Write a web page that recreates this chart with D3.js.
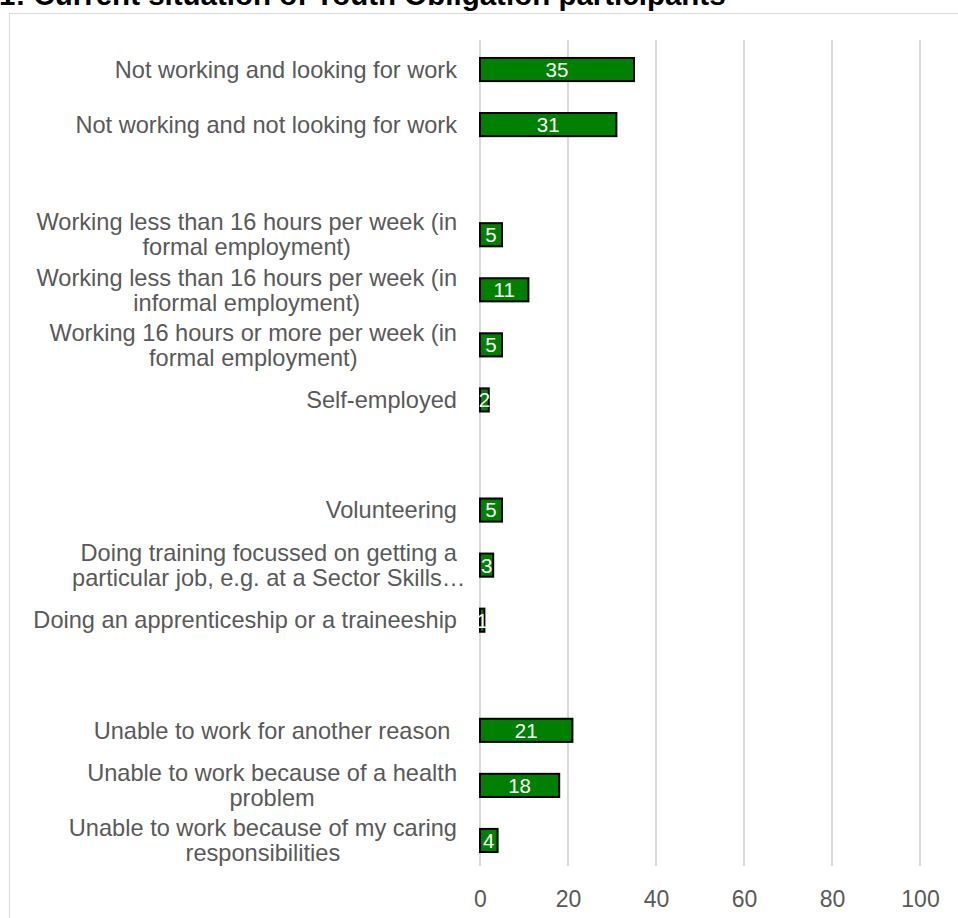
<!DOCTYPE html>
<html>
<head>
<meta charset="utf-8">
<script src="https://cdn.jsdelivr.net/npm/d3@7"></script>
<style>
  body { margin: 0; background: #fff; }
  svg { display: block; font-family: Arial, "Liberation Sans", sans-serif; }
</style>
</head>
<body>
<div id="chart"></div>
<script>
// Category labels (split into lines as in the original), blanks are spacer rows
const categories = [
  ['Not working and looking for work'],
  ['Not working and not looking for work'],
  [],
  ['Working less than 16 hours per week (in', 'formal employment)'],
  ['Working less than 16 hours per week (in', 'informal employment)'],
  ['Working 16 hours or more per week (in', 'formal employment)'],
  ['Self-employed'],
  [],
  ['Volunteering'],
  ['Doing training focussed on getting a', 'particular job, e.g. at a Sector Skills\u2026'],
  ['Doing an apprenticeship or a traineeship'],
  [],
  ['Unable to work for another reason\u00a0'],
  ['Unable to work because of a health', 'problem'],
  ['Unable to work because of my caring', 'responsibilities']
];
const values = [35, 31, null, 5, 11, 5, 2, null, 5, 3, 1, null, 21, 18, 4];
const xTicks = [0, 20, 40, 60, 80, 100];
const title = '1: Current situation of Youth Obligation participants';

const width = 958, height = 918;
const margin = { top: 42, right: 38, bottom: 50, left: 480 };

const svg = d3.select('#chart')
  .append('svg')
  .attr('width', width)
  .attr('height', height);

// Title (cut off at the top of the picture)
svg.append('text')
  .attr('x', -1)
  .attr('y', 5)
  .style('font-size', '29.5px')
  .style('font-weight', 'bold')
  .style('fill', '#000')
  .text(title);

// Chart frame
svg.append('rect')
  .attr('x', 9.5)
  .attr('y', 13.5)
  .attr('width', 1000)
  .attr('height', 1000)
  .attr('fill', 'none')
  .attr('stroke', '#d9d9d9')
  .attr('stroke-width', 1);

const keys = categories.map((d, i) => 'c' + i);

const x = d3.scaleLinear()
  .domain([0, 100])
  .range([margin.left, width - margin.right]);

const y = d3.scaleBand()
  .domain(keys)
  .range([margin.top, height - margin.bottom])
  .paddingInner(0.58)
  .paddingOuter(0.29);

// Gridlines
svg.append('g')
  .selectAll('line')
  .data(xTicks)
  .enter()
  .append('line')
  .attr('x1', d => x(d))
  .attr('x2', d => x(d))
  .attr('y1', 40)
  .attr('y2', 866)
  .attr('stroke', '#d9d9d9')
  .attr('stroke-width', 2);

// X axis labels
const xAxis = svg.append('g')
  .attr('transform', `translate(0, ${height - margin.bottom})`)
  .call(d3.axisBottom(x).tickValues(xTicks).tickSize(0).tickPadding(23));
xAxis.select('.domain').remove();
xAxis.selectAll('text')
  .style('font-size', '23px')
  .style('font-family', 'Arial, "Liberation Sans", sans-serif')
  .style('fill', '#595959');

// Bars
const rows = keys.map((k, i) => ({ key: k, value: values[i], lines: categories[i] }));
const barRows = rows.filter(d => d.value !== null);

svg.append('g')
  .selectAll('rect')
  .data(barRows)
  .enter()
  .append('rect')
  .attr('x', x(0))
  .attr('y', d => y(d.key))
  .attr('width', d => x(d.value) - x(0))
  .attr('height', y.bandwidth())
  .attr('fill', '#008000')
  .attr('stroke', '#000')
  .attr('stroke-width', 2);

// Value labels inside bars
svg.append('g')
  .selectAll('text')
  .data(barRows)
  .enter()
  .append('text')
  .attr('x', d => (x(0) + x(d.value)) / 2)
  .attr('y', d => y(d.key) + y.bandwidth() / 2)
  .attr('dy', '0.36em')
  .attr('text-anchor', 'middle')
  .style('font-size', '20.5px')
  .style('fill', '#fff')
  .text(d => d.value);

// Category labels: block right-aligned, lines centred within block
const lineH = 25;
const labelRight = 457;
const labels = svg.append('g')
  .selectAll('g')
  .data(rows.filter(d => d.lines.length))
  .enter()
  .append('g');

labels.each(function(d) {
  const g = d3.select(this);
  const cy = y(d.key) + y.bandwidth() / 2;
  const n = d.lines.length;
  const txt = g.append('text')
    .style('font-size', '23.6px')
    .style('fill', '#595959')
    .style('white-space', 'pre');
  d.lines.forEach((line, i) => {
    txt.append('tspan')
      .attr('y', cy + (i - (n - 1) / 2) * lineH)
      .attr('dy', '0.35em')
      .text(line);
  });
  // the first line sets the block width; the rest are centred on it
  const firstW = txt.select('tspan').node().getComputedTextLength();
  const centre = labelRight - firstW / 2;
  txt.selectAll('tspan')
    .attr('x', centre)
    .attr('text-anchor', 'middle');
});
</script>
</body>
</html>
